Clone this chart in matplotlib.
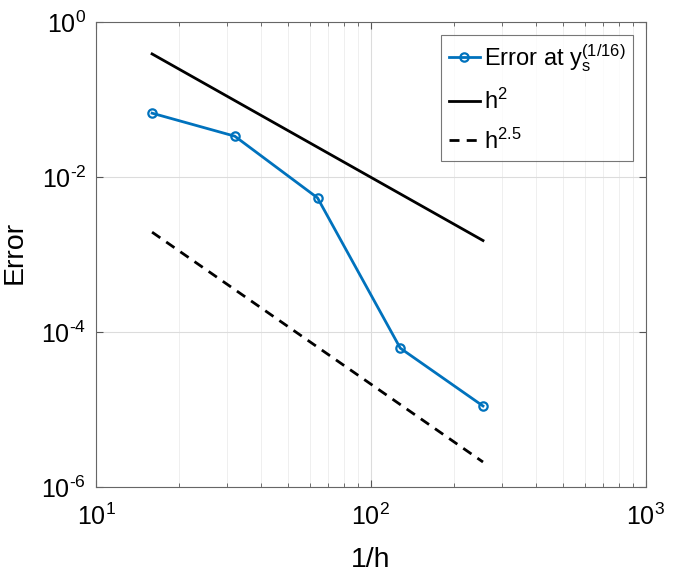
import matplotlib
matplotlib.use("Agg")
import matplotlib.pyplot as plt
from matplotlib.ticker import LogLocator, NullFormatter, NullLocator, FuncFormatter
import math

plt.rcParams['font.family'] = ['Liberation Sans', 'DejaVu Sans']
plt.rcParams['mathtext.default'] = 'regular'
plt.rcParams['mathtext.fontset'] = 'custom'
plt.rcParams['mathtext.rm'] = 'Liberation Sans'
plt.rcParams['mathtext.it'] = 'Liberation Sans'

# data
inv_h = [16, 32, 64, 128, 256]
error = [0.067, 0.0338, 0.0054, 6.2e-5, 1.11e-5]
ref_x = [16, 256]
ref_h2 = [0.39, 0.00152]
ref_h25 = [0.00195, 2.1e-6]

fig = plt.figure(figsize=(6.74, 5.78), dpi=100)
ax = fig.add_axes([0.1424, 0.1575, 0.8155, 0.804])

blue = '#0072BD'
ax.loglog(inv_h, error, '-o', color=blue, lw=2, ms=6, mfc='none', mew=1.6,
          label='Error at $y_s^{(1/16)}$')
ax.loglog(ref_x, ref_h2, '-', color='k', lw=2, label='$h^2$')
ax.loglog(ref_x, ref_h25, '--', color='k', lw=2, dashes=(3.6, 2.6),
          label='$h^{2.5}$')

ax.set_xlim(10, 1000)
ax.set_ylim(1e-6, 1)


def fmt(v, pos):
    e = int(round(math.log10(v)))
    if e < 0:
        return r'10$^{\text{-%d}}$' % (-e)
    return r'10$^{%d}$' % e


ax.xaxis.set_major_locator(LogLocator(base=10, numticks=10))
ax.yaxis.set_major_locator(LogLocator(base=100, numticks=10))
ax.xaxis.set_minor_locator(LogLocator(base=10, subs=range(2, 10), numticks=20))
ax.yaxis.set_minor_locator(NullLocator())
ax.xaxis.set_minor_formatter(NullFormatter())
ax.xaxis.set_major_formatter(FuncFormatter(fmt))
ax.yaxis.set_major_formatter(FuncFormatter(fmt))

ax.grid(True, which='major', color='#dcdcdc', lw=0.8)
ax.grid(True, which='minor', axis='x', color='#efefef', lw=0.7)
ax.set_axisbelow(True)

ax.tick_params(which='both', direction='in', top=True, right=True,
               color='#555555', labelsize=18)
ax.tick_params(axis='x', pad=12)
ax.tick_params(axis='y', pad=7)
ax.tick_params(which='major', length=5)
ax.tick_params(which='minor', length=3)
for s in ax.spines.values():
    s.set_color('#666666')
    s.set_linewidth(0.8)

ax.set_xlabel('1/h', fontsize=20.5)
ax.set_ylabel('Error', fontsize=20.5)
ax.xaxis.set_label_coords(0.5, -0.13)
ax.yaxis.set_label_coords(-0.125, 0.505)

leg = ax.legend(loc='upper right', fontsize=17, frameon=True, fancybox=False,
                edgecolor='#555555', handlelength=1.35, handletextpad=0.15,
                borderpad=0.3, labelspacing=0.62, borderaxespad=0.55)
leg.get_frame().set_linewidth(0.8)

fig.savefig('out.png', dpi=100)
